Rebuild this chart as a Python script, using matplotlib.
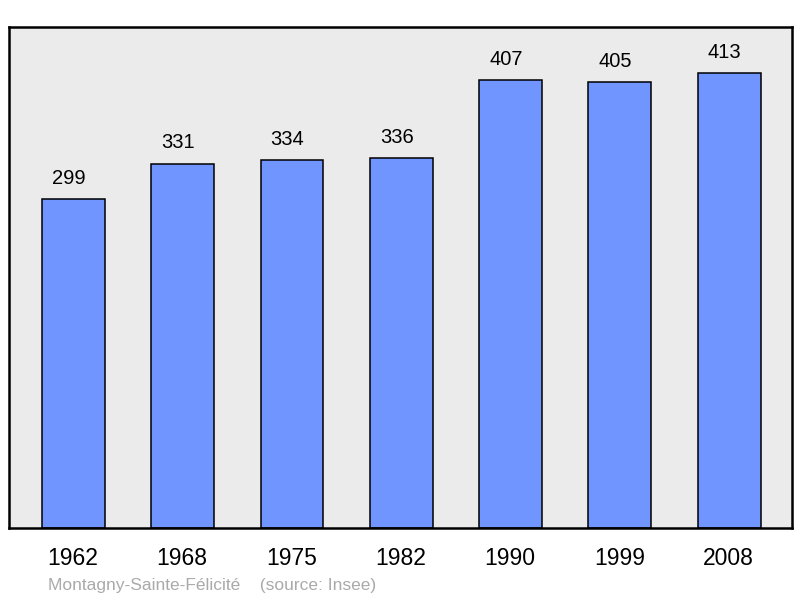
import matplotlib
matplotlib.use("Agg")
import matplotlib.pyplot as plt

years = ["1962", "1968", "1975", "1982", "1990", "1999", "2008"]
population = [299, 331, 334, 336, 407, 405, 413]
commune = "Montagny-Sainte-Félicité"

plt.rcParams['font.family'] = ['Liberation Sans', 'DejaVu Sans']

fig = plt.figure(figsize=(8, 5.98), dpi=100)
ax = fig.add_axes([0.01125, 0.117, 0.97875, 0.8378])
ax.set_facecolor('#ebebeb')

x = range(len(years))
ax.bar([i + 0.005 for i in x], population, width=0.575, color='#7095ff',
       edgecolor='black', linewidth=1.1, zorder=2)

# value labels above each bar (slightly left of centre, as in the original)
for xi, v in zip(x, population):
    ax.annotate(str(v), (xi, v), xytext=(-3, 8), textcoords='offset points',
                ha='center', va='bottom', fontsize=14.5)

ax.set_xlim(-0.585, 6.58)
ax.set_ylim(0, 455)
ax.set_xticks(list(x))
ax.set_xticklabels(years, fontsize=16.5)
ax.tick_params(axis='x', length=0, pad=14)
ax.set_yticks([])
for s in ax.spines.values():
    s.set_linewidth(1.8)

fig.text(0.06, 0.014, commune + "    (source: Insee)", color='#aaaaaa', fontsize=12.5)

fig.savefig('out.png', dpi=100)
